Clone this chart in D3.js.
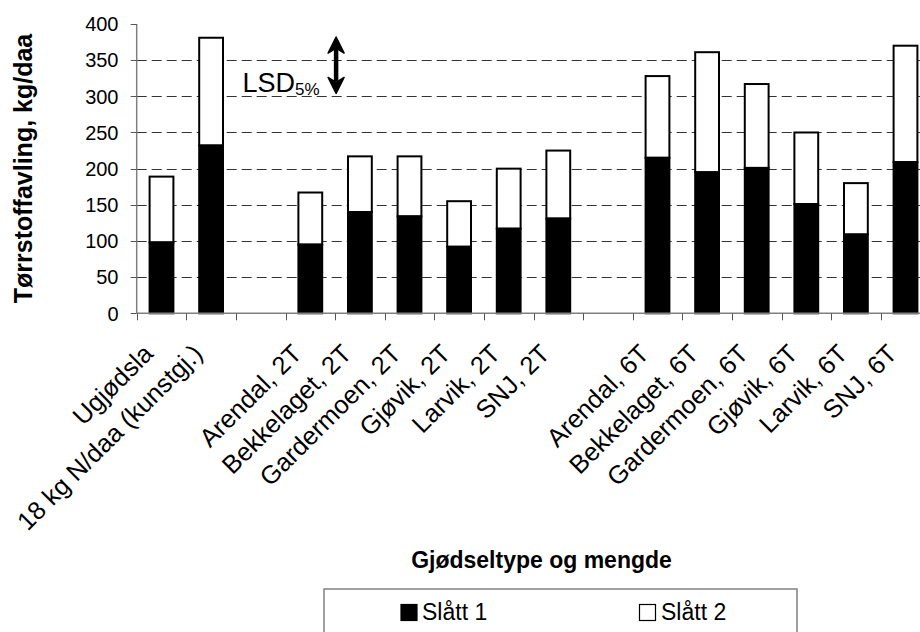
<!DOCTYPE html>
<html>
<head>
<meta charset="utf-8">
<script src="https://cdn.jsdelivr.net/npm/d3@7"></script>
<style>
  html, body { margin: 0; padding: 0; background: #fff; overflow: hidden; }
  svg { display: block; }
  text { font-family: Arial, "Liberation Sans", sans-serif; fill: #000; }
</style>
</head>
<body>
<div id="chart"></div>
<script>
// ---- data ----
const categories = ["Ugjødsla", "18 kg N/daa (kunstgj.)", "", "Arendal, 2T", "Bekkelaget, 2T",
  "Gardermoen, 2T", "Gjøvik, 2T", "Larvik, 2T", "SNJ, 2T", "", "Arendal, 6T", "Bekkelaget, 6T",
  "Gardermoen, 6T", "Gjøvik, 6T", "Larvik, 6T", "SNJ, 6T"];
const slatt1 = [98, 232, null, 95, 140, 134, 92, 117, 131, null, 215, 195, 201, 151, 109, 209];
const slatt2 = [91, 149, null, 72, 77, 83, 63, 83, 94, null, 113, 166, 116, 99, 71, 161];
const seriesNames = ["Slått 1", "Slått 2"];
const yTicks = [0, 50, 100, 150, 200, 250, 300, 350, 400];
const lsdRange = [304, 382];
const yTitle = "Tørrstoffavling, kg/daa";
const xTitle = "Gjødseltype og mengde";

// ---- layout ----
const W = 920, H = 632;
const x0 = 136.7, x1 = 930.3, yBottom = 313.3, yTop = 24;

const svg = d3.select("#chart").append("svg").attr("width", W).attr("height", H);

const x = d3.scaleBand().domain(d3.range(categories.length)).range([x0, x1])
  .paddingInner(0.52).paddingOuter(0.26);
const y = d3.scaleLinear().domain([0, 400]).range([yBottom, yTop]);
const step = x.step();
const gap = step - x.bandwidth();

// gridlines
svg.append("g").selectAll("line").data(yTicks.filter(v => v > 0 && v < 400)).join("line")
  .attr("x1", x0).attr("x2", x1)
  .attr("y1", d => Math.round(y(d)) + 0.5).attr("y2", d => Math.round(y(d)) + 0.5)
  .attr("stroke", "#333").attr("stroke-width", 1).attr("stroke-dasharray", "10,5");

// bars
const rows = categories.map((c, i) => ({ i, a: slatt1[i], b: slatt2[i] })).filter(d => d.a != null);
const gb = svg.append("g");
gb.selectAll("rect.s2").data(rows).join("rect").attr("class", "s2")
  .attr("x", d => x(d.i)).attr("width", x.bandwidth())
  .attr("y", d => y(d.a + d.b)).attr("height", d => y(d.a) - y(d.a + d.b))
  .attr("fill", "#fff").attr("stroke", "#000").attr("stroke-width", 2);
gb.selectAll("rect.s1").data(rows).join("rect").attr("class", "s1")
  .attr("x", d => x(d.i)).attr("width", x.bandwidth())
  .attr("y", d => y(d.a)).attr("height", d => y(0) - y(d.a))
  .attr("fill", "#000").attr("stroke", "#000").attr("stroke-width", 2);

// y axis
const ya = svg.append("g");
ya.append("line").attr("x1", x0).attr("x2", x0).attr("y1", y(400)).attr("y2", y(0))
  .attr("stroke", "#808080").attr("stroke-width", 1.5);
ya.selectAll("line.t").data(yTicks).join("line").attr("class", "t")
  .attr("x1", x0 - 6).attr("x2", x0)
  .attr("y1", d => Math.round(y(d)) + 0.5).attr("y2", d => Math.round(y(d)) + 0.5)
  .attr("stroke", "#555").attr("stroke-width", 1);
ya.selectAll("text").data(yTicks).join("text")
  .attr("x", 118.5).attr("y", d => y(d)).attr("dy", "0.36em")
  .attr("text-anchor", "end").attr("font-size", 20).text(d => d);

// x axis
const xa = svg.append("g");
xa.append("line").attr("x1", x0).attr("x2", x1).attr("y1", y(0)).attr("y2", y(0))
  .attr("stroke", "#808080").attr("stroke-width", 1.5);
xa.selectAll("line.t").data(d3.range(categories.length + 1)).join("line").attr("class", "t")
  .attr("x1", i => Math.round(x0 + i * step) + 0.5).attr("x2", i => Math.round(x0 + i * step) + 0.5)
  .attr("y1", y(0)).attr("y2", y(0) + 7)
  .attr("stroke", "#555").attr("stroke-width", 1);
xa.selectAll("text").data(categories.map((c, i) => ({ c, i })).filter(d => d.c)).join("text")
  .attr("text-anchor", "end").attr("font-size", 25.5)
  .attr("transform", d => `translate(${x(d.i) + x.bandwidth() / 2 - 7},${y(0) + 42}) rotate(-45)`)
  .text(d => d.c);

// y title
svg.append("text").attr("font-size", 25).attr("font-weight", "bold").attr("text-anchor", "middle")
  .attr("transform", `translate(32,${(30 + 307) / 2}) rotate(-90)`).text(yTitle);

// x title
svg.append("text").attr("font-size", 23).attr("font-weight", "bold").attr("text-anchor", "middle")
  .attr("x", 541.5).attr("y", 568).text(xTitle);

// LSD arrow
const ax = x(4) - gap / 2 + 1;
const ay1 = y(lsdRange[1]), ay2 = y(lsdRange[0]);
const hw = 8, hl = 16;
svg.append("line").attr("x1", ax).attr("x2", ax).attr("y1", ay1 + hl - 4).attr("y2", ay2 - hl + 4)
  .attr("stroke", "#000").attr("stroke-width", 4.5);
svg.append("path").attr("d", `M${ax},${ay1} L${ax + hw},${ay1 + hl} L${ax},${ay1 + hl - 5} L${ax - hw},${ay1 + hl} Z`)
  .attr("fill", "#000").attr("stroke", "#000").attr("stroke-width", 1.5).attr("stroke-linejoin", "round");
svg.append("path").attr("d", `M${ax},${ay2} L${ax + hw},${ay2 - hl} L${ax},${ay2 - hl + 5} L${ax - hw},${ay2 - hl} Z`)
  .attr("fill", "#000").attr("stroke", "#000").attr("stroke-width", 1.5).attr("stroke-linejoin", "round");
const lsd = svg.append("text").attr("x", 242.5).attr("y", 91.5).attr("font-size", 27);
lsd.append("tspan").text("LSD");
lsd.append("tspan").attr("font-size", 17).attr("dy", 3).text("5%");

// legend
const lg = svg.append("g");
lg.append("rect").attr("x", 324).attr("y", 589).attr("width", 473).attr("height", 60)
  .attr("fill", "#fff").attr("stroke", "#808080").attr("stroke-width", 1.5);
const legItems = [
  { name: seriesNames[0], fill: "#000", sx: 401, tx: 422 },
  { name: seriesNames[1], fill: "#fff", sx: 639.5, tx: 661 }
];
legItems.forEach(it => {
  lg.append("rect").attr("x", it.sx).attr("y", 604.5).attr("width", 16).attr("height", 16)
    .attr("fill", it.fill).attr("stroke", "#000").attr("stroke-width", 1.2);
  lg.append("text").attr("x", it.tx).attr("y", 620).attr("font-size", 23).text(it.name);
});
</script>
</body>
</html>
